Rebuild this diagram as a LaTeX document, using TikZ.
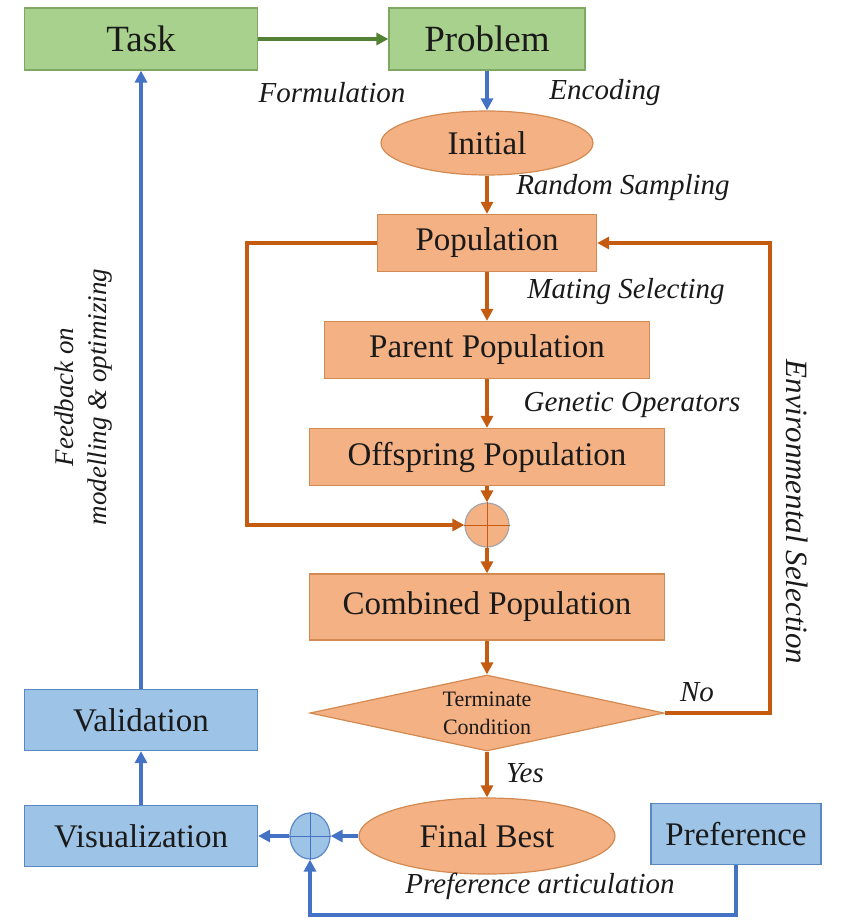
\documentclass[tikz,border=0pt]{standalone}
\usepackage{fontspec}
\setmainfont{Liberation Serif}
\usetikzlibrary{shapes.geometric,arrows.meta}

% Palette
\definecolor{greenFill}{HTML}{A9D18E}
\definecolor{greenLine}{HTML}{7FA862}
\definecolor{greenArrow}{HTML}{548235}
\definecolor{blueFill}{HTML}{9DC3E6}
\definecolor{blueLine}{HTML}{5B87C5}
\definecolor{blueArrow}{HTML}{4472C4}
\definecolor{orangeFill}{HTML}{F4B183}
\definecolor{orangeLine}{HTML}{D38A52}
\definecolor{orangeArrow}{HTML}{C55A11}
\definecolor{textDark}{HTML}{1A1A1A}

\begin{document}
\begin{tikzpicture}[x=1pt,y=-1pt,
    boxtext/.style={text=textDark, font=\fontsize{33}{38}\selectfont, inner sep=0pt},
    greenbox/.style={boxtext, draw=greenLine, fill=greenFill, line width=1.2pt, minimum height=62pt, font=\fontsize{37}{42}\selectfont},
    bluebox/.style={boxtext, draw=blueLine, fill=blueFill, line width=1.2pt, minimum height=61pt},
    orangebox/.style={boxtext, draw=orangeLine, fill=orangeFill, line width=1.2pt, minimum height=57pt},
    orangeoval/.style={boxtext, ellipse, draw=orangeLine, fill=orangeFill, line width=1.2pt},
    steplabel/.style={text=textDark, font=\fontsize{29}{34}\selectfont\itshape, inner sep=0pt},
    greenflow/.style={draw=greenArrow, line width=3.5pt, -{Triangle[length=12pt,width=12pt]}},
    blueflow/.style={draw=blueArrow, line width=3.5pt, -{Triangle[length=12pt,width=12pt]}},
    orangeflow/.style={draw=orangeArrow, line width=3.5pt, -{Triangle[length=12pt,width=12pt]}},
    sumnode/.style={circle, minimum size=44pt, inner sep=0pt, line width=1.2pt}
]

% Canvas of the reference (848 x 923, y grows downwards)
\useasboundingbox (0,0) rectangle (848,923);

% Column positions
\def\leftx{141}
\def\mainx{487}

% --- Green boxes ---
\node[greenbox, minimum width=233pt] (taskBox)    at (\leftx,39) {Task};
\node[greenbox, minimum width=196pt] (problemBox) at (\mainx,39) {Problem};

% --- Evolutionary loop ---
\node[orangeoval, minimum width=212pt, minimum height=64pt] (initialPop) at (\mainx,143) {Initial};
\node[orangebox, minimum width=219pt] (populationBox) at (\mainx,243) {Population};
\node[orangebox, minimum width=325pt] (parentBox)     at (\mainx,350) {Parent Population};
\node[orangebox, minimum width=355pt] (offspringBox)  at (\mainx,457) {Offspring Population};
\node[sumnode, draw=gray!70, fill=orangeFill] (orangeSum) at (\mainx,525) {};
\node[orangebox, minimum width=355pt, minimum height=66pt] (combinedBox) at (\mainx,607) {Combined Population};
\node[diamond, aspect=4.8, draw=orangeLine, fill=orangeFill, line width=1.2pt,
      minimum width=354pt, minimum height=76pt, inner sep=0pt, text=textDark,
      align=center, font=\fontsize{22}{28}\selectfont] (terminateCheck) at (\mainx,713) {Terminate\\Condition};
\node[orangeoval, minimum width=256pt, minimum height=76pt] (finalBest) at (\mainx,836) {Final Best};

% --- Blue boxes ---
\node[bluebox, minimum width=233pt] (validationBox)    at (\leftx,720) {Validation};
\node[bluebox, minimum width=233pt] (visualizationBox) at (\leftx,836) {Visualization};
\node[bluebox, minimum width=170pt] (preferenceBox)    at (736,834) {Preference};
\node[sumnode, ellipse, minimum width=40pt, minimum height=46pt, draw=blueLine, fill=blueFill] (blueSum) at (310,836) {};

% Crosses of the two summing junctions
\draw[orangeArrow, line width=1pt] (orangeSum.west) -- (orangeSum.east);
\draw[orangeArrow, line width=1pt] (orangeSum.north) -- (orangeSum.south);
\draw[blueArrow, line width=1pt] (blueSum.west) -- (blueSum.east);
\draw[blueArrow, line width=1pt] (blueSum.north) -- (blueSum.south);

% --- Connectors ---
\draw[greenflow]  (taskBox) -- (problemBox);
\draw[blueflow]   (problemBox) -- (initialPop);
\draw[orangeflow] (initialPop) -- (populationBox);
\draw[orangeflow] (populationBox) -- (parentBox);
\draw[orangeflow] (parentBox) -- (offspringBox);
\draw[orangeflow] (offspringBox) -- (orangeSum);
\draw[orangeflow] (orangeSum) -- (combinedBox);
\draw[orangeflow] (combinedBox) -- (terminateCheck);
\draw[orangeflow] (terminateCheck) -- (finalBest);
\draw[orangeflow] (populationBox.west) -| (247,525) -- (orangeSum.west);
\draw[orangeflow] (terminateCheck.east) -| (770,243) -- (populationBox.east);
\draw[blueflow]   (finalBest) -- (blueSum);
\draw[blueflow]   (blueSum) -- (visualizationBox);
\draw[blueflow]   (preferenceBox.south) -- ++(0,50) -| (blueSum.south);
\draw[blueflow]   (visualizationBox) -- (validationBox);
\draw[blueflow]   (validationBox) -- (taskBox);

% --- Step labels ---
\node[steplabel] (formulationLabel) at (332,93)  {Formulation};
\node[steplabel] (encodingLabel)    at (605,93)  {Encoding};
\node[steplabel] (samplingLabel)    at (623,188) {Random Sampling};
\node[steplabel] (matingLabel)      at (626,292) {Mating Selecting};
\node[steplabel] (geneticLabel)     at (632,405) {Genetic Operators};
\node[steplabel] (noLabel)          at (697,692) {No};
\node[steplabel] (yesLabel)         at (525,773) {Yes};
\node[steplabel] (articulationLabel) at (540,886) {Preference articulation};
\node[steplabel, rotate=-90, font=\fontsize{31}{36}\selectfont\itshape] (environmentalLabel) at (797,512) {Environmental Selection};
\node[steplabel, rotate=90, align=center, font=\fontsize{27}{33}\selectfont\itshape] (feedbackLabel) at (84,397) {Feedback on\\modelling \& optimizing};

\end{tikzpicture}
\end{document}
